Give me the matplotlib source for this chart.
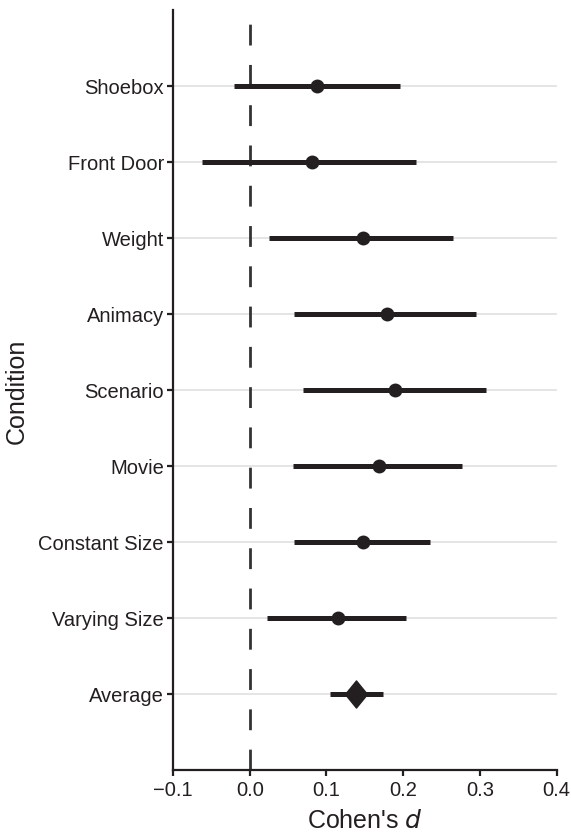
import matplotlib
matplotlib.use('Agg')
import matplotlib.pyplot as plt

plt.rcParams['font.family'] = ['Liberation Sans', 'DejaVu Sans']

# conditions, top to bottom
conditions = ['Shoebox', 'Front Door', 'Weight', 'Animacy', 'Scenario',
              'Movie', 'Constant Size', 'Varying Size', 'Average']
d_est = [0.088, 0.081, 0.147, 0.179, 0.189, 0.168, 0.147, 0.115, 0.139]
ci_low = [-0.020, -0.062, 0.025, 0.058, 0.069, 0.056, 0.058, 0.023, 0.105]
ci_high = [0.196, 0.216, 0.265, 0.295, 0.308, 0.277, 0.235, 0.203, 0.174]

ink = '#231f20'
fig = plt.figure(figsize=(5.71, 8.37), dpi=100)
ax = fig.add_axes([0.303, 0.079, 0.672, 0.908])

n = len(conditions)
ypos = list(range(n))
for i in ypos:
    ax.axhline(i, color='#e3e3e3', lw=1.3, zorder=0)

ax.axvline(0, color='#333333', lw=2, ls=(0, (7.5, 7)), zorder=1)

for i in ypos:
    ax.plot([ci_low[i], ci_high[i]], [i, i], color=ink, lw=3.6,
            solid_capstyle='butt', zorder=2)
    if conditions[i] == 'Average':
        diamond = [(-0.815, 0), (0, 1), (0.815, 0), (0, -1), (-0.815, 0)]
        ax.plot(d_est[i], i, marker=diamond, ms=19.5, color=ink, zorder=3)
    else:
        ax.plot(d_est[i], i, 'o', ms=9, color=ink, zorder=3)

ax.set_xlim(-0.1, 0.4)
ax.set_ylim(n, -1)
ax.set_yticks(ypos)
ax.set_yticklabels(conditions)
ax.set_xticks([-0.1, 0.0, 0.1, 0.2, 0.3, 0.4])
ax.set_xticklabels(['\u22120.1', '0.0', '0.1', '0.2', '0.3', '0.4'])

for s in ['top', 'right']:
    ax.spines[s].set_visible(False)
for s in ['left', 'bottom']:
    ax.spines[s].set_linewidth(1.6)
    ax.spines[s].set_color(ink)

ax.tick_params(axis='both', labelsize=14.5, colors=ink, width=1.6, length=4.5, pad=2)
ax.tick_params(axis='x', pad=3)
ax.set_xlabel("Cohen's $\\it{d}$", fontsize=18, color=ink, labelpad=6)
ax.set_ylabel('Condition', fontsize=18, color=ink, labelpad=7)

fig.savefig('out.png', dpi=100)
